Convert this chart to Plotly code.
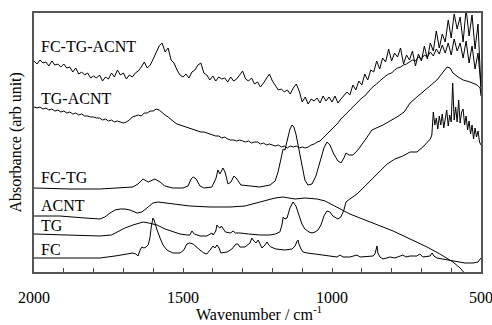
import plotly.graph_objects as go

# ---------------- data (wavenumber in cm-1, absorbance in arbitrary offset units) ----------------
wn_grid10 = list(range(2000, 499, -10))

abs_fc_tg_acnt = [
    211, 208, 212, 209, 210, 206, 211, 207, 208, 205,
    208, 204, 205, 200, 204, 198, 200, 197, 199, 194,
    196, 194, 197, 191, 195, 193, 199, 195, 202, 197,
    199, 193, 197, 195, 199, 201, 205, 210, 204, 207,
    213, 219, 226, 229, 220, 224, 212, 209, 202, 197,
    195, 198, 194, 200, 202, 207, 209, 199, 197, 192,
    196, 191, 195, 193, 194, 190, 195, 191, 193, 197,
    201, 193, 191, 194, 188, 190, 185, 189, 194, 198,
    191, 187, 182, 183, 180, 182, 178, 184, 188, 181,
    170, 175, 168, 173, 171, 174, 169, 176, 171, 175,
    170, 176, 169, 173, 177, 180, 177, 187, 182, 191,
    187, 198, 192, 202, 200, 211, 203, 214, 210, 223,
    211, 219, 215, 224, 208, 217, 212, 221, 206, 218,
    211, 226, 213, 229, 221, 241, 224, 238, 230, 252,
    234, 258, 243, 255, 230, 263, 236, 257, 223, 248,
    182,
]

abs_tg_acnt = [
    165, 164, 165, 163, 164, 162, 163, 161, 162, 160,
    161, 159, 160, 158, 159, 157, 158, 156, 156, 155,
    155, 154, 154, 152, 153, 151, 152, 150, 151, 150,
    149, 150, 152, 155, 156, 157, 156, 159, 159, 161,
    161, 163, 162, 159, 157, 155, 152, 150, 148, 147,
    146, 145, 144, 143, 142, 141, 140, 140, 139, 138,
    137, 136, 136, 134, 135, 133, 132, 132, 131, 132,
    131, 130, 131, 129, 130, 130, 128, 129, 127, 128,
    127, 126, 127, 125, 126, 124, 126, 125, 126, 124,
    125, 124, 125, 127, 128, 130, 131, 134, 136, 139,
    142, 145, 149, 153, 156, 160, 163, 166, 168, 171,
    174, 176, 180, 183, 186, 188, 191, 194, 196, 198,
    199, 202, 204, 205, 207, 208, 210, 212, 211, 215,
    213, 217, 215, 220, 216, 223, 218, 227, 219, 229,
    217, 233, 221, 229, 214, 231, 209, 226, 203, 219,
    185,
]

wn_fc_tg = [2000, 1879, 1779, 1712, 1668, 1651, 1634, 1617, 1604, 1594, 1577, 1561, 1534, 1500,
            1483, 1473, 1466, 1456, 1443, 1430, 1403, 1389, 1383, 1376, 1366, 1359, 1349, 1339,
            1329, 1319, 1306, 1275, 1242, 1208, 1191, 1181, 1171, 1164, 1158, 1148, 1141, 1134,
            1128, 1121, 1111, 1101, 1091, 1081, 1067, 1054, 1040, 1027, 1017, 1007, 994, 980,
            970, 960, 953, 943, 930, 913, 889, 866, 829, 782, 758, 738, 715, 695, 671, 648,
            627, 614, 604, 594, 577, 560, 537, 513, 503, 500]
abs_fc_tg = [84, 83, 83, 84, 85, 88, 93, 90, 92, 93, 90, 86, 84, 84,
             86, 93, 95, 93, 86, 84, 85, 94, 102, 98, 104, 100, 88, 90,
             96, 93, 87, 86, 85, 87, 91, 100, 115, 123, 122, 134, 143, 147,
             145, 138, 122, 105, 92, 87, 88, 96, 110, 124, 130, 127, 118, 111,
             109, 114, 119, 117, 117, 122, 132, 142, 147, 155, 160, 169, 175, 180, 186, 192,
             200, 205, 204, 199, 195, 192, 190, 187, 184, 176]

wn_acnt = [2000, 1913, 1829, 1795, 1779, 1762, 1745, 1728, 1711, 1695, 1678, 1654, 1638, 1617,
           1601, 1584, 1561, 1527, 1477, 1409, 1342, 1292, 1242, 1191, 1164, 1124, 1091, 1050,
           1023, 997, 973, 940, 906, 856, 795, 738, 681, 638, 594, 570, 557, 547]
abs_acnt = [56, 56, 54, 53, 53, 55, 59, 62, 63, 63, 62, 59, 60, 65,
            69, 70, 69, 68, 66, 65, 65, 66, 70, 74, 75, 73, 74, 73,
            71, 67, 63, 58, 54, 48, 41, 33, 25, 18, 10, 4, -1, -4]

wn_tg = [2000, 1900, 1779, 1740, 1721, 1695, 1668, 1650, 1634, 1615, 1587, 1560, 1534, 1510,
         1487, 1477, 1470, 1462, 1443, 1420, 1403, 1399, 1390, 1386, 1381, 1376, 1371, 1366,
         1358, 1340, 1332, 1324, 1309, 1280, 1240, 1208, 1190, 1175, 1168, 1164, 1158, 1151,
         1141, 1131, 1121, 1111, 1101, 1091, 1077, 1067, 1057, 1047, 1037, 1027, 1017, 1007,
         997, 980, 970, 960, 953, 940, 916, 889, 862, 839, 815, 789, 762, 738, 715, 695, 685,
         680, 675, 670, 665, 660, 655, 650, 645, 640, 635, 630, 625, 620, 615, 610, 605, 600,
         595, 590, 585, 580, 575, 570, 565, 560, 555, 550, 545, 540, 535, 530, 525, 520, 515,
         510, 505, 500]
abs_tg = [38, 37, 36, 37, 40, 44, 47, 49, 50, 49, 47, 43, 40, 38,
          37, 37, 41, 38, 36, 36, 39, 37, 41, 47, 45, 44, 46, 44,
          40, 39, 41, 39, 39, 38, 37, 37, 38, 40, 47, 55, 53, 54,
          64, 70, 66, 57, 48, 43, 40, 39, 40, 42, 47, 56, 61, 60,
          56, 53, 55, 62, 70, 73, 78, 86, 94, 101, 108, 113, 116, 120, 120, 125, 128,
          129, 131, 133, 137, 160, 147, 154, 143, 156, 147, 158, 144, 152, 162, 146, 157, 150,
          189, 152, 165, 150, 172, 149, 160, 163, 147, 156, 142, 151, 138, 147, 133, 144, 135,
          141, 130, 127]

wn_fc = [2000, 1879, 1779, 1728, 1695, 1668, 1658, 1651, 1644, 1638, 1631, 1624, 1617, 1611,
         1607, 1604, 1601, 1597, 1594, 1587, 1577, 1567, 1554, 1534, 1510, 1497, 1487, 1477,
         1466, 1456, 1443, 1430, 1420, 1409, 1399, 1393, 1386, 1379, 1373, 1352, 1336, 1322,
         1316, 1309, 1292, 1275, 1269, 1262, 1255, 1248, 1242, 1235, 1225, 1218, 1212, 1205,
         1188, 1158, 1134, 1124, 1117, 1114, 1111, 1104, 1097, 1084, 1057, 1017, 983, 973,
         963, 940, 916, 906, 862, 856, 849, 846, 839, 829, 805, 789, 772, 762, 752, 738,
         715, 705, 695, 671, 664, 658, 648, 627, 614, 597, 580, 554, 527, 510, 500]
abs_fc = [14, 14, 14, 16, 18, 19, 18, 16, 22, 25, 24, 25, 27, 34,
          44, 52, 54, 52, 48, 42, 34, 27, 22, 19, 19, 22, 28, 29,
          28, 25, 22, 19, 18, 22, 26, 24, 27, 24, 19, 20, 23, 28,
          28, 25, 25, 29, 34, 31, 29, 32, 28, 24, 27, 30, 27, 25,
          23, 22, 23, 26, 31, 32, 28, 23, 20, 19, 18, 16, 15, 17,
          15, 15, 17, 15, 16, 18, 26, 19, 15, 13, 15, 14, 16, 17, 15, 16,
          16, 18, 15, 16, 19, 16, 14, 13, 12, 11, 10, 9, 9, 10, 14]

labels = ["FC-TG-ACNT", "TG-ACNT", "FC-TG", "ACNT", "TG", "FC"]
label_levels = [226, 174, 95, 67, 47, 23]

x_title = "Wavenumber / cm<sup>-1</sup>"
y_title = "Absorbance (arb unit)"

# ---------------- figure ----------------
fig = go.Figure()
line_style = dict(color="black", width=1)
series = [
    (wn_grid10, abs_fc_tg_acnt),
    (wn_grid10, abs_tg_acnt),
    (wn_fc_tg, abs_fc_tg),
    (wn_acnt, abs_acnt),
    (wn_tg, abs_tg),
    (wn_fc, abs_fc),
]
for xs, ys in series:
    fig.add_trace(go.Scatter(x=xs, y=ys, mode="lines", line=line_style, hoverinfo="skip"))

for name, lvl in zip(labels, label_levels):
    fig.add_annotation(x=1984, y=lvl, text=name, showarrow=False, xanchor="left", yanchor="middle",
                       font=dict(size=16, color="black"))

# axis titles placed as annotations for precise positioning
fig.add_annotation(xref="paper", yref="paper", x=0.5035, y=-0.158, text=x_title, showarrow=False,
                   xanchor="center", yanchor="middle", font=dict(size=16, color="black"))
fig.add_annotation(xref="paper", yref="paper", x=-0.0425, y=0.5, text=y_title, showarrow=False,
                   textangle=-90, xanchor="center", yanchor="middle", font=dict(size=16, color="black"))

frame = dict(showline=True, mirror=True, linecolor="#555", linewidth=1.5, showgrid=False,
             zeroline=False, automargin=False)

fig.update_layout(
    width=492, height=325,
    margin=dict(l=34, r=11, t=13, b=53),
    plot_bgcolor="white", paper_bgcolor="white",
    showlegend=False,
    font=dict(family="Liberation Serif, Times New Roman, serif", size=16, color="black"),
    xaxis=dict(range=[2000, 500], tickvals=[2000, 1500, 1000, 500], ticks="inside", ticklen=4,
               tickcolor="#444", tickwidth=1,
               minor=dict(dtick=100, ticks="inside", ticklen=4, tickcolor="#444", tickwidth=1),
               ticklabelstandoff=10, ticklabeloverflow="allow", **frame),
    yaxis=dict(range=[0, 259], showticklabels=False, ticks="", **frame),
)

fig.write_html("out.html", config={"displayModeBar": False},
               post_script="document.body.style.margin='0px';")
